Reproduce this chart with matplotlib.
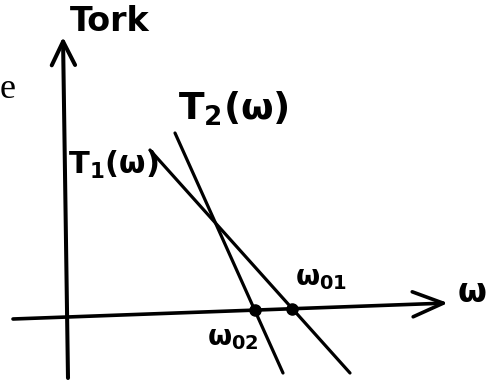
import matplotlib
matplotlib.use("Agg")
import matplotlib.pyplot as plt
import numpy as np

# sketch data (omega, torque) in arbitrary units
omega_T1 = [8.3, 28.3]
torque_T1 = [16.7, -5.6]
omega_T2 = [10.8, 21.6]
torque_T2 = [18.4, -5.6]

# hand drawn axes are slightly tilted
omega_axis_x = [-5.4, 38.1]
omega_axis_y = [-0.2, 1.4]
torque_axis_x = [0.1, -0.4]
torque_axis_y = [-6.1, 28.0]

fig = plt.figure(figsize=(4.94, 3.82), dpi=100)
ax = fig.add_axes([0, 0, 1, 1])
ax.set_xlim(-6.7, 42.7)
ax.set_ylim(-6.5, 31.7)
ax.axis('off')

ink = 'black'

# axes with open arrowheads
ax.annotate('', xy=(omega_axis_x[1], omega_axis_y[1]), xytext=(omega_axis_x[0], omega_axis_y[0]),
            arrowprops=dict(arrowstyle='->,head_length=1.1,head_width=0.45', lw=2.6,
                            color=ink, mutation_scale=20, shrinkA=0, shrinkB=0))
ax.annotate('', xy=(torque_axis_x[1], torque_axis_y[1]), xytext=(torque_axis_x[0], torque_axis_y[0]),
            arrowprops=dict(arrowstyle='->,head_length=0.85,head_width=0.42', lw=2.9,
                            color=ink, mutation_scale=20, shrinkA=0, shrinkB=0))

# torque lines
ax.plot(omega_T1, torque_T1, color=ink, lw=2.3, solid_capstyle='round')
ax.plot(omega_T2, torque_T2, color=ink, lw=2.3, solid_capstyle='round')


def axis_crossing(wx, ty):
    # where a line meets the (tilted) omega axis
    k = (ty[1] - ty[0]) / (wx[1] - wx[0])
    a = (omega_axis_y[1] - omega_axis_y[0]) / (omega_axis_x[1] - omega_axis_x[0])
    b0 = omega_axis_y[0] - a * omega_axis_x[0]
    c0 = ty[0] - k * wx[0]
    w = (c0 - b0) / (a - k)
    return w, a * w + b0


w01 = axis_crossing(omega_T1, torque_T1)
w02 = axis_crossing(omega_T2, torque_T2)
ax.plot([w01[0], w02[0]], [w01[1], w02[1]], 'o', color=ink, markersize=8)

txt = dict(color=ink, ha='center', va='center', family='DejaVu Sans', fontweight='bold')
ax.text(4.3, 29.6, 'Tork', fontsize=24, **txt)
ax.text(4.6, 15.2, r'$\mathregular{T_1(ω)}$', fontsize=22, **txt)
ax.text(16.6, 20.8, r'$\mathregular{T_2(ω)}$', fontsize=27, **txt)
ax.text(25.4, 3.9, r'$\mathregular{ω_{01}}$', fontsize=20, **txt)
ax.text(16.6, -2.1, r'$\mathregular{ω_{02}}$', fontsize=20, **txt)
ax.text(40.5, 2.4, 'ω', fontsize=24, **txt)
ax.text(-5.9, 22.8, 'e', fontsize=26, color=ink, ha='center', va='center', family='Liberation Serif')

fig.savefig('out.png', dpi=100)
